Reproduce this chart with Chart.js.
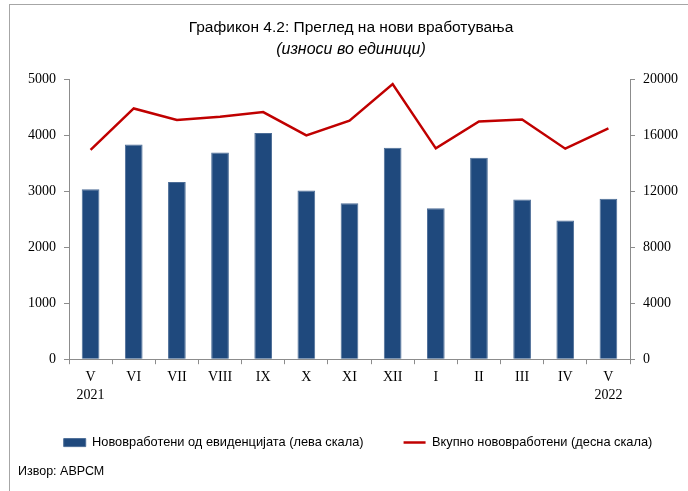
<!DOCTYPE html>
<html>
<head>
<meta charset="utf-8">
<script src="https://cdn.jsdelivr.net/npm/chart.js@4.4.1/dist/chart.umd.min.js"></script>
<style>
body { margin: 0; background: #fff; }
#wrap { position: relative; width: 688px; height: 491px; overflow: hidden; }
#frame { position: absolute; left: 9px; top: 4px; right: -2px; bottom: -2px; border-top: 1px solid #a6a6a6; border-left: 1px solid #a6a6a6; }
canvas { position: absolute; left: 0; top: 0; }
#source { position: absolute; left: 18px; top: 464px; font: 12.5px "Liberation Sans", sans-serif; color: #000; }
</style>
</head>
<body>
<div id="wrap">
  <div id="frame"></div>
  <canvas id="chart" width="688" height="491"></canvas>
  <div id="source">Извор: АВРСМ</div>
</div>
<script>
const months = [['V', '2021'], 'VI', 'VII', 'VIII', 'IX', 'X', 'XI', 'XII', 'I', 'II', 'III', 'IV', ['V', '2022']];
const registered = [3040, 3840, 3170, 3700, 4050, 3020, 2790, 3785, 2700, 3605, 2860, 2480, 2870];
const totalNew = [14980, 17950, 17120, 17360, 17690, 16020, 17070, 19690, 15090, 17020, 17160, 15070, 16520];
const leftTicks = [0, 1000, 2000, 3000, 4000, 5000];
const rightTicks = [0, 4000, 8000, 12000, 16000, 20000];

const serif = { family: '"Liberation Serif", serif', size: 14 };
const sans = '"Liberation Sans", sans-serif';
const axisGray = '#8c8c8c';

// nudge the legend up and a little to the right, like in the original
const moveLegend = {
    id: 'moveLegend',
    afterLayout(chart) {
        const lg = chart.legend;
        if (!lg) return;
        lg.top -= 11;
        lg.bottom -= 11;
        lg.left += 7;
        lg.right += 7;
    }
};

new Chart(document.getElementById('chart').getContext('2d'), {
    data: {
        labels: months,
        datasets: [{
            type: 'bar',
            label: 'Нововработени од евиденцијата (лева скала)',
            data: registered,
            backgroundColor: '#1f497d',
            borderColor: '#4c6d97',
            borderWidth: 1,
            categoryPercentage: 1,
            barPercentage: 0.41,
            yAxisID: 'y',
            pointStyle: 'rect',
            order: 2
        }, {
            type: 'line',
            label: 'Вкупно нововработени (десна скала)',
            data: totalNew,
            borderColor: '#c00000',
            backgroundColor: '#c00000',
            borderWidth: 2.5,
            pointRadius: 0,
            tension: 0,
            yAxisID: 'y1',
            pointStyle: 'line',
            order: 1
        }]
    },
    options: {
        responsive: false,
        animation: false,
        layout: { padding: { left: 14, right: 0, top: 0, bottom: 21 } },
        scales: {
            x: {
                grid: { display: true, drawOnChartArea: false, offset: true, tickLength: 5, color: axisGray },
                border: { color: axisGray },
                ticks: { color: '#000', font: { ...serif, lineHeight: 1.3 }, padding: 4, maxRotation: 0, autoSkip: false },
                afterFit: (s) => { s.height = 48; }
            },
            y: {
                position: 'left',
                min: 0,
                max: 5000,
                afterBuildTicks: (s) => { s.ticks = leftTicks.map(v => ({ value: v })); },
                grid: { drawOnChartArea: false, tickLength: 5, color: axisGray },
                border: { color: axisGray },
                ticks: { color: '#000', font: serif, padding: 8, callback: (v) => String(v) },
                afterFit: (s) => { s.width = 55; }
            },
            y1: {
                position: 'right',
                min: 0,
                max: 20000,
                afterBuildTicks: (s) => { s.ticks = rightTicks.map(v => ({ value: v })); },
                grid: { drawOnChartArea: false, tickLength: 5, color: axisGray },
                border: { color: axisGray },
                ticks: { color: '#000', font: serif, padding: 8, callback: (v) => String(v) },
                afterFit: (s) => { s.width = 58; }
            }
        },
        plugins: {
            title: {
                display: true,
                text: 'Графикон 4.2: Преглед на нови вработувања',
                color: '#000',
                font: { family: sans, size: 15.5, weight: 'normal' },
                padding: { top: 18, bottom: 3 }
            },
            subtitle: {
                display: true,
                text: '(износи во единици)',
                color: '#000',
                font: { family: sans, size: 16, style: 'italic' },
                padding: { top: 0, bottom: 21 }
            },
            legend: {
                position: 'bottom',
                maxHeight: 70,
                labels: {
                    usePointStyle: true,
                    pointStyleWidth: 22,
                    boxHeight: 8,
                    padding: 40,
                    color: '#000',
                    font: { family: sans, size: 12.8 },
                    sort: (a, b) => a.datasetIndex - b.datasetIndex
                }
            },
            tooltip: { enabled: false }
        }
    },
    plugins: [moveLegend]
});
</script>
</body>
</html>
